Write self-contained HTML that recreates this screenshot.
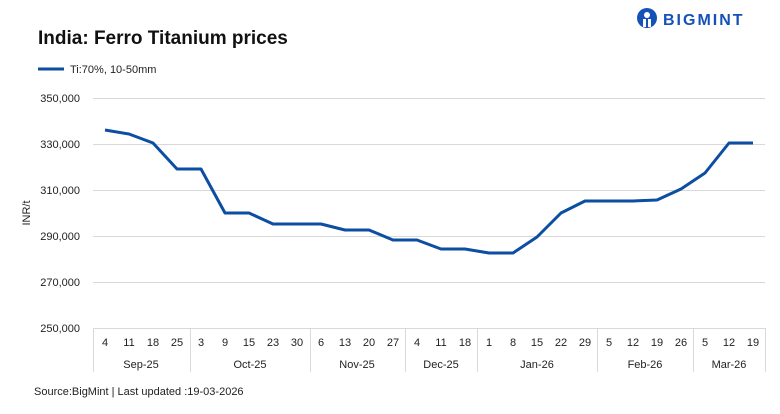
<!DOCTYPE html><html><head><meta charset="utf-8"><style>body{margin:0;background:#fff}svg{display:block;font-family:"Liberation Sans",sans-serif}</style></head><body>
<svg width="780" height="414" xmlns="http://www.w3.org/2000/svg">
<text x="38" y="44" font-size="19" font-weight="bold" fill="#111">India: Ferro Titanium prices</text>
<line x1="38" y1="69" x2="64" y2="69" stroke="#0b4ea2" stroke-width="3"/>
<text x="70" y="73" font-size="11" fill="#222">Ti:70%, 10-50mm</text>
<g transform="translate(636,7)"><circle cx="11" cy="11" r="10" fill="#1552b8"/><circle cx="11" cy="8" r="3" fill="#fff"/><rect x="7" y="12" width="8" height="8" fill="#fff"/><rect x="10" y="12" width="2" height="9" fill="#1552b8"/></g>
<text x="663" y="25" font-size="16" font-weight="bold" fill="#1552b8" letter-spacing="2">BIGMINT</text>
<g stroke="#d9d9d9" stroke-width="1">
<line x1="93" y1="98.5" x2="765" y2="98.5"/><line x1="93" y1="144.5" x2="765" y2="144.5"/><line x1="93" y1="190.5" x2="765" y2="190.5"/><line x1="93" y1="236.5" x2="765" y2="236.5"/><line x1="93" y1="282.5" x2="765" y2="282.5"/><line x1="93" y1="328.5" x2="765" y2="328.5"/>
<line x1="93.5" y1="328" x2="93.5" y2="372"/><line x1="190.5" y1="328" x2="190.5" y2="372"/><line x1="310.5" y1="328" x2="310.5" y2="372"/><line x1="405.5" y1="328" x2="405.5" y2="372"/><line x1="477.5" y1="328" x2="477.5" y2="372"/><line x1="597.5" y1="328" x2="597.5" y2="372"/><line x1="693.5" y1="328" x2="693.5" y2="372"/><line x1="765.5" y1="328" x2="765.5" y2="372"/>
</g>
<g font-size="11" fill="#222" text-anchor="end">
<text x="80" y="102">350,000</text><text x="80" y="148">330,000</text><text x="80" y="194">310,000</text><text x="80" y="240">290,000</text><text x="80" y="286">270,000</text><text x="80" y="332">250,000</text>
</g>
<text transform="translate(30,213) rotate(-90)" font-size="11" fill="#222" text-anchor="middle">INR/t</text>
<g font-size="11" fill="#222" text-anchor="middle">
<text x="105" y="346">4</text><text x="129" y="346">11</text><text x="153" y="346">18</text><text x="177" y="346">25</text><text x="201" y="346">3</text><text x="225" y="346">9</text><text x="249" y="346">15</text><text x="273" y="346">23</text><text x="297" y="346">30</text><text x="321" y="346">6</text><text x="345" y="346">13</text><text x="369" y="346">20</text><text x="393" y="346">27</text><text x="417" y="346">4</text><text x="441" y="346">11</text><text x="465" y="346">18</text><text x="489" y="346">1</text><text x="513" y="346">8</text><text x="537" y="346">15</text><text x="561" y="346">22</text><text x="585" y="346">29</text><text x="609" y="346">5</text><text x="633" y="346">12</text><text x="657" y="346">19</text><text x="681" y="346">26</text><text x="705" y="346">5</text><text x="729" y="346">12</text><text x="753" y="346">19</text>
<text x="141" y="368">Sep-25</text><text x="250" y="368">Oct-25</text><text x="357" y="368">Nov-25</text><text x="441" y="368">Dec-25</text><text x="537" y="368">Jan-26</text><text x="645" y="368">Feb-26</text><text x="729" y="368">Mar-26</text>
</g>
<polyline fill="none" stroke="#0b4ea2" stroke-width="3" stroke-linejoin="round" points="105,130 129,134 153,143 177,169 201,169 225,213 249,213 273,224 297,224 321,224 345,230 369,230 393,240 417,240 441,249 465,249 489,253 513,253 537,237 561,213 585,201 609,201 633,201 657,200 681,189 705,173 729,143 753,143"/>
<text x="34" y="395" font-size="11" fill="#222">Source:BigMint | Last updated :19-03-2026</text>
</svg></body></html>
